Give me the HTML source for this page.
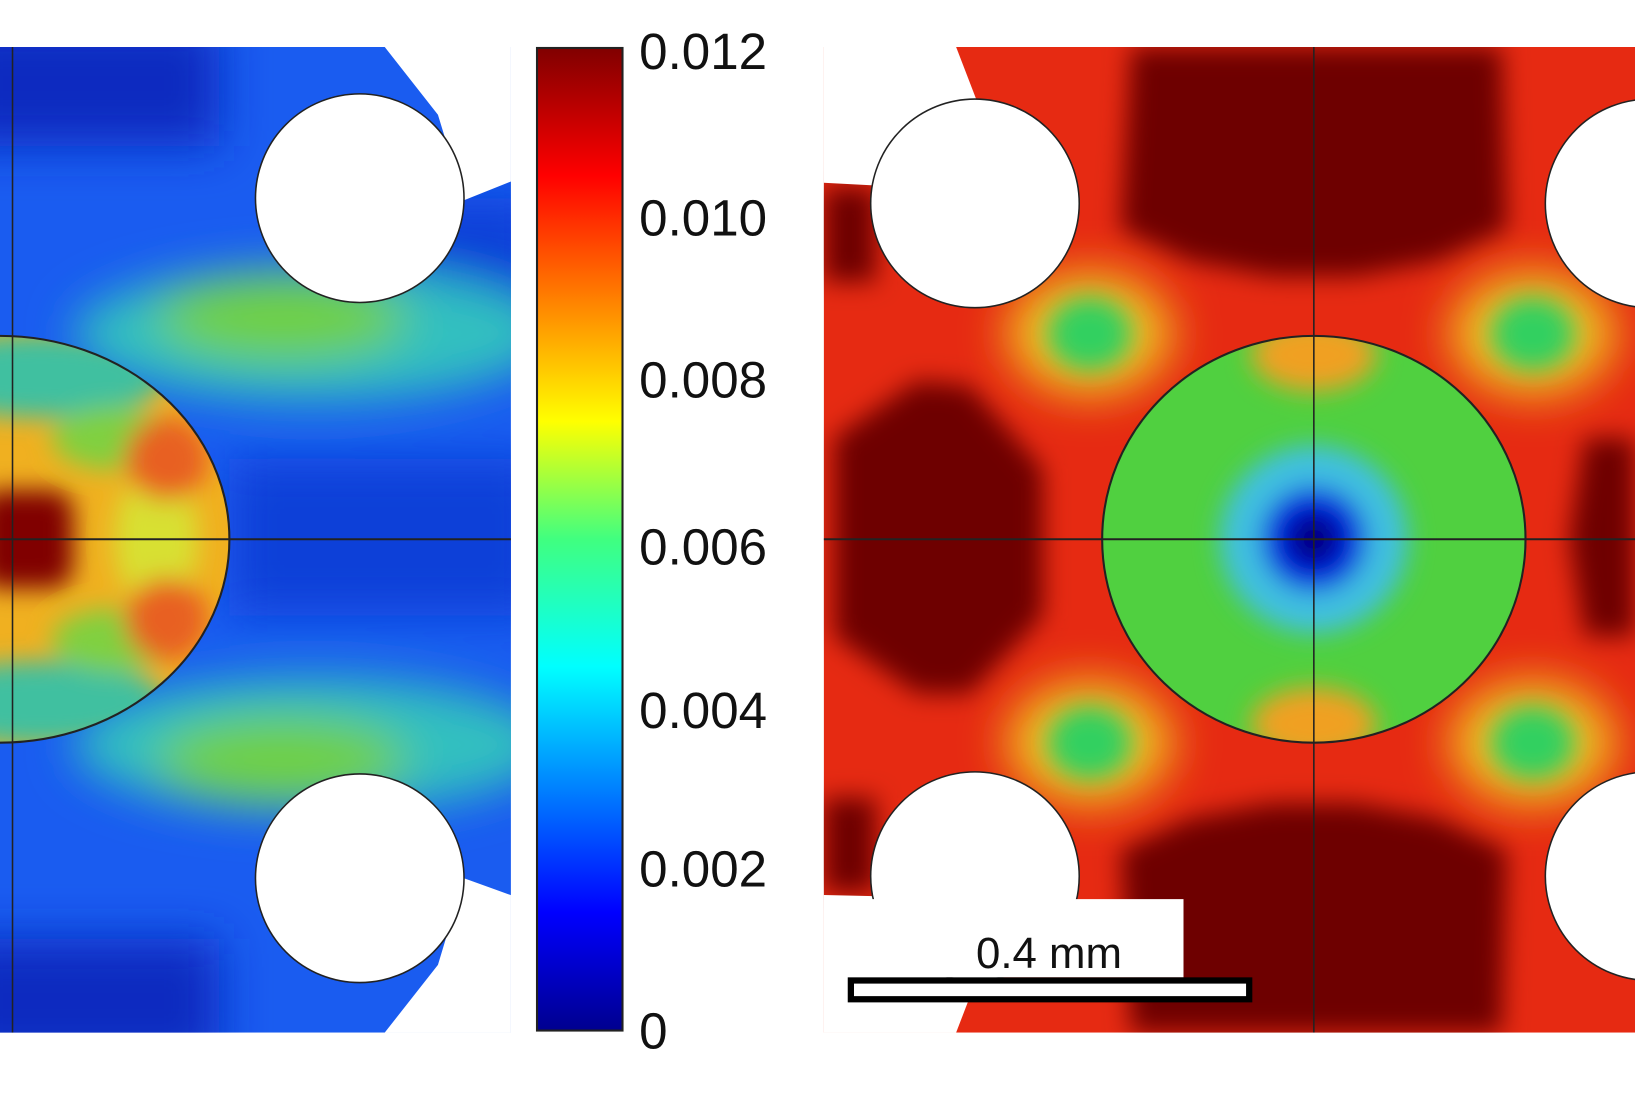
<!DOCTYPE html>
<html><head><style>html,body{margin:0;padding:0;background:#fff;overflow:hidden}</style></head><body>
<svg width="1635" height="1090" viewBox="0 0 1568 1045" preserveAspectRatio="none" xmlns="http://www.w3.org/2000/svg">
<defs>
<linearGradient id="jet" x1="0" y1="1" x2="0" y2="0">
<stop offset="0" stop-color="#00008f"/><stop offset="0.12" stop-color="#0000ff"/><stop offset="0.37" stop-color="#00ffff"/><stop offset="0.5" stop-color="#40ff80"/><stop offset="0.62" stop-color="#ffff00"/><stop offset="0.87" stop-color="#ff0000"/><stop offset="1" stop-color="#800000"/>
</linearGradient>
<filter id="bl" x="-20%" y="-20%" width="140%" height="140%"><feGaussianBlur stdDeviation="22"/></filter>
<filter id="bl2" x="-20%" y="-20%" width="140%" height="140%"><feGaussianBlur stdDeviation="12"/></filter>
<clipPath id="cl"><rect x="0" y="45" width="490" height="945"/></clipPath>
<clipPath id="cr"><rect x="790" y="45" width="778" height="945"/></clipPath>
<clipPath id="ce"><ellipse cx="0" cy="517" rx="220" ry="195"/></clipPath>
<clipPath id="cc"><ellipse cx="1260" cy="517" rx="203" ry="195"/></clipPath>
</defs>
<g clip-path="url(#cl)">
<rect x="0" y="45" width="490" height="945" fill="#1a5cf0"/>
<g filter="url(#bl)">
<rect x="-50" y="20" width="260" height="120" fill="#0a2cc0"/>
<rect x="-50" y="900" width="260" height="120" fill="#0a2cc0"/>
<rect x="380" y="190" width="140" height="120" fill="#0a40d8"/>
<rect x="220" y="440" width="300" height="150" fill="#0a40d8"/>
<ellipse cx="300" cy="320" rx="230" ry="65" fill="#30c0c0"/>
<ellipse cx="300" cy="714" rx="230" ry="65" fill="#30c0c0"/>
<ellipse cx="270" cy="305" rx="120" ry="40" fill="#70d040"/>
<ellipse cx="270" cy="728" rx="120" ry="40" fill="#70d040"/>
</g>
<g clip-path="url(#ce)">
<rect x="0" y="320" width="230" height="400" fill="#f0b020"/>
<g filter="url(#bl2)">
<ellipse cx="40" cy="360" rx="120" ry="40" fill="#40c0a0"/>
<ellipse cx="40" cy="674" rx="120" ry="40" fill="#40c0a0"/>
<ellipse cx="110" cy="420" rx="60" ry="30" fill="#80d040"/>
<ellipse cx="110" cy="614" rx="60" ry="30" fill="#80d040"/>
<ellipse cx="150" cy="517" rx="40" ry="70" fill="#d8e030"/>
<ellipse cx="160" cy="440" rx="40" ry="40" fill="#e86020"/>
<ellipse cx="160" cy="594" rx="40" ry="40" fill="#e86020"/>
<rect x="-20" y="470" width="90" height="94" rx="20" fill="#800000"/>
</g>
</g>
<ellipse cx="0" cy="517" rx="220" ry="195" fill="none" stroke="#222" stroke-width="2"/>
<line x1="0" y1="517" x2="490" y2="517" stroke="#222" stroke-width="2"/>
<line x1="12" y1="45" x2="12" y2="990" stroke="#222" stroke-width="1.5"/>
<polygon points="365,40 495,40 495,172 445,192 420,110" fill="#fff"/>
<polygon points="365,995 495,995 495,860 445,842 420,925" fill="#fff"/>
<circle cx="345" cy="190" r="100" fill="#fff" stroke="#222" stroke-width="1.5"/>
<circle cx="345" cy="842" r="100" fill="#fff" stroke="#222" stroke-width="1.5"/>
</g>
<rect x="515" y="46" width="82" height="942" fill="url(#jet)" stroke="#222" stroke-width="2"/>
<g font-family="Liberation Sans, sans-serif" font-size="49" fill="#111">
<text x="613" y="66">0.012</text>
<text x="613" y="226">0.010</text>
<text x="613" y="381">0.008</text>
<text x="613" y="541">0.006</text>
<text x="613" y="698">0.004</text>
<text x="613" y="850">0.002</text>
<text x="613" y="1005">0</text>
</g>
<g clip-path="url(#cr)">
<rect x="790" y="45" width="778" height="945" fill="#e62a12"/>
<g filter="url(#bl2)">
<polygon points="1085,45 1440,45 1445,220 1380,250 1300,265 1220,265 1140,250 1075,220" fill="#6e0000"/>
<polygon points="1085,990 1440,990 1445,815 1380,785 1300,770 1220,770 1140,785 1075,815" fill="#6e0000"/>
<polygon points="800,420 880,365 930,370 1000,450 1000,590 930,665 880,665 800,610" fill="#6e0000"/>
<polygon points="1568,420 1520,420 1505,517 1520,610 1568,610" fill="#6e0000"/>
<rect x="790" y="180" width="50" height="90" fill="#6e0000"/>
<rect x="790" y="765" width="50" height="90" fill="#6e0000"/>
</g>
<g filter="url(#bl)">
<ellipse cx="1045" cy="320" rx="80" ry="60" fill="#f0c020"/>
<ellipse cx="1045" cy="712" rx="80" ry="60" fill="#f0c020"/>
<ellipse cx="1470" cy="320" rx="80" ry="60" fill="#f0c020"/>
<ellipse cx="1470" cy="712" rx="80" ry="60" fill="#f0c020"/>
</g>
<g filter="url(#bl2)">
<ellipse cx="1045" cy="320" rx="40" ry="35" fill="#30d060"/>
<ellipse cx="1045" cy="712" rx="40" ry="35" fill="#30d060"/>
<ellipse cx="1470" cy="320" rx="40" ry="35" fill="#30d060"/>
<ellipse cx="1470" cy="712" rx="40" ry="35" fill="#30d060"/>
</g>
<g clip-path="url(#cc)">
<rect x="1050" y="320" width="420" height="400" fill="#50d040"/>
<g filter="url(#bl2)">
<ellipse cx="1260" cy="340" rx="60" ry="35" fill="#f0a020"/>
<ellipse cx="1260" cy="694" rx="60" ry="35" fill="#f0a020"/>
<ellipse cx="1260" cy="517" rx="90" ry="90" fill="#40c0e0"/>
<ellipse cx="1260" cy="517" rx="50" ry="50" fill="#0020e0"/>
<ellipse cx="1260" cy="517" rx="25" ry="25" fill="#000080"/>
</g>
</g>
<ellipse cx="1260" cy="517" rx="203" ry="195" fill="none" stroke="#222" stroke-width="2"/>
<line x1="790" y1="517" x2="1568" y2="517" stroke="#222" stroke-width="2"/>
<line x1="1260" y1="45" x2="1260" y2="990" stroke="#222" stroke-width="1.5"/>
<polygon points="785,40 915,40 940,105 880,180 785,175" fill="#fff"/>
<polygon points="785,995 915,995 940,930 880,860 785,858" fill="#fff"/>
<circle cx="935" cy="195" r="100" fill="#fff" stroke="#222" stroke-width="1.5"/>
<circle cx="935" cy="840" r="100" fill="#fff" stroke="#222" stroke-width="1.5"/>
<circle cx="1582" cy="195" r="100" fill="#fff" stroke="#222" stroke-width="1.5"/>
<circle cx="1582" cy="840" r="100" fill="#fff" stroke="#222" stroke-width="1.5"/>
</g>
<rect x="810" y="862" width="325" height="75" fill="#fff"/>
<text x="1006" y="928" font-family="Liberation Sans, sans-serif" font-size="42" fill="#111" text-anchor="middle">0.4 mm</text>
<rect x="816" y="940" width="382" height="18" fill="#fff" stroke="#000" stroke-width="6"/>
</svg>
</body></html>
